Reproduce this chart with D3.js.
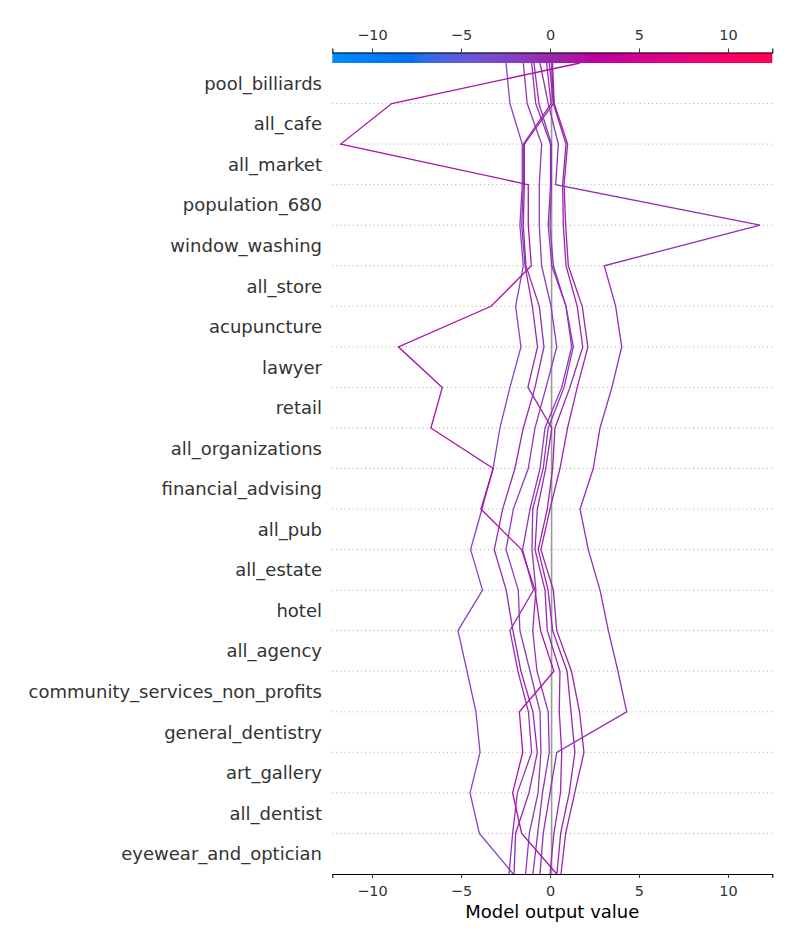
<!DOCTYPE html>
<html><head><meta charset="utf-8">
<script src="https://cdn.jsdelivr.net/npm/d3@7"></script>
<style>
body{margin:0;background:#fff}
svg{display:block;font-family:"DejaVu Sans",sans-serif}
</style>
</head><body>
<svg id="chart" width="800" height="950"></svg>
<script>
// Features, top to bottom as displayed
const features = ["pool_billiards","all_cafe","all_market","population_680","window_washing","all_store",
  "acupuncture","lawyer","retail","all_organizations","financial_advising","all_pub","all_estate","hotel",
  "all_agency","community_services_non_profits","general_dentistry","art_gallery","all_dentist","eyewear_and_optician"];
const baseValue = 0.09;
const xTicks = [-10, -5, 0, 5, 10];
const xDomain = [-12.23, 12.49];

// Cumulative model output at each feature boundary: index 0 = bottom start, index 20 = final output (top)
const obs01 = [-2.06,-3.97,-4.49,-3.93,-4.16,-4.66,-5.17,-3.79,-4.46,-3.82,-3.20,-2.81,-2.25,-1.63,-1.93,-1.50,-1.69,-1.56,-1.56,-2.25,-2.47];
const obs02 = [-2.30,-2.10,-1.83,-1.03,-1.21,-1.80,-2.25,-0.93,-1.54,-1.12,-0.56,-0.28,0.66,1.22,0.90,0.10,-0.10,0.03,0.03,-0.80,-1.03];
const obs03 = [-2.02,-1.93,-1.18,-0.71,-0.96,-1.63,-2.08,-2.46,-3.13,-2.66,-1.97,-1.50,-0.84,-0.34,-0.60,-1.35,-1.50,-1.44,-1.44,0.19,-0.04];
const obs04 = [-1.37,-1.16,-0.67,-0.51,-0.56,-1.12,-1.69,-1.78,-2.47,-2.06,-1.22,-0.84,-0.22,0.38,0.06,-0.47,-0.60,-0.60,-0.47,-1.28,-1.50];
const obs05 = [-0.96,-0.69,-0.42,-0.04,-0.10,-0.73,-0.97,-0.79,-1.01,-0.97,-0.38,-0.10,0.79,1.31,0.90,0.19,0.00,0.08,0.08,-0.62,-0.90];
const obs06 = [0.00,0.22,0.59,0.66,0.52,0.56,-0.15,-0.28,-0.84,-0.71,-0.24,0.10,-1.24,-0.70,-0.99,-1.40,-1.59,-1.50,-1.50,0.06,-0.19];
const obs07 = [0.39,0.60,1.08,1.40,1.18,0.96,0.15,-0.11,-0.66,-0.15,0.15,0.28,1.12,1.84,1.53,0.90,0.75,0.71,0.90,0.19,0.10];
const obs08 = [0.62,0.88,1.39,1.91,1.66,1.21,0.38,0.19,-0.51,0.00,0.56,0.99,1.53,2.13,1.81,1.03,0.88,0.79,0.99,0.24,0.14];
const obs09 = [-0.56,-0.38,0.00,0.38,4.31,3.82,3.28,2.81,2.15,1.69,2.43,2.81,3.48,4.03,3.69,3.05,11.80,0.32,0.47,-0.10,-0.56];
const obs10 = [0.38,-1.59,-2.10,-1.53,-1.72,0.22,-0.53,-0.84,-1.60,-3.88,-3.19,-6.69,-6.05,-8.52,-3.31,-1.05,-1.22,-1.22,-11.76,-8.89,1.69];
const observations = [obs01, obs02, obs03, obs04, obs05, obs06, obs07, obs08, obs09, obs10];

const nF = features.length;
const svg = d3.select("#chart");
const x = d3.scaleLinear().domain(xDomain).range([332.3, 772.3]);
const y = d3.scaleLinear().domain([0, nF]).range([874, 63]);

// SHAP red_blue colormap: LCh (D65) interpolation, 100 samples
function lch2rgb(L, C, H) {
  const a = C * Math.cos(H), b = C * Math.sin(H);
  const fy = (L + 16) / 116, fx = fy + a / 500, fz = fy - b / 200;
  const finv = t => (t > 0.2068966 ? t * t * t : (t - 16 / 116) / 7.787);
  const X = 0.95047 * finv(fx), Y = finv(fy), Z = 1.08883 * finv(fz);
  const r = 3.24048134 * X - 1.53715152 * Y - 0.49853633 * Z;
  const g = -0.96925495 * X + 1.87599 * Y + 0.04155593 * Z;
  const bb = 0.05564664 * X - 0.20404134 * Y + 1.05731107 * Z;
  const gam = v => {
    v = v > 0.0031308 ? 1.055 * Math.pow(v, 1 / 2.4) - 0.055 : 12.92 * v;
    return Math.max(0, Math.min(1, v));
  };
  return [gam(r), gam(g), gam(bb)];
}
const nSteps = 100;
const cmapSamples = d3.range(nSteps).map(i => {
  const t = i / (nSteps - 1);
  const l = i < 50 ? 54 + (40 - 54) * i / 49 : 40 + (54 - 40) * (i - 50) / 49;
  const c = 70 + 20 * t;
  const h = 4.6588 + (0.35470565 + 2 * Math.PI - 4.6588) * t;
  const rgb = lch2rgb(l, c, h);
  return d3.rgb(rgb[0] * 255, rgb[1] * 255, rgb[2] * 255);
});
function redBlue(t) {
  t = Math.max(0, Math.min(1, t));
  const p = t * (nSteps - 1), i = Math.min(nSteps - 2, Math.floor(p)), f = p - i;
  return d3.interpolateRgb(cmapSamples[i], cmapSamples[i + 1])(f);
}
const colorOf = v => redBlue((v - xDomain[0]) / (xDomain[1] - xDomain[0]));

// dotted horizontal lines
for (let i = 1; i < nF; i++) {
  svg.append("line").attr("x1", x(xDomain[0])).attr("x2", x(xDomain[1]))
    .attr("y1", y(i)).attr("y2", y(i))
    .attr("stroke", "#999").attr("stroke-width", 0.9).attr("stroke-dasharray", "0.9,3.2");
}

// base value line
svg.append("line").attr("x1", x(baseValue)).attr("x2", x(baseValue))
  .attr("y1", y(0)).attr("y2", y(nF)).attr("stroke", "#999999").attr("stroke-width", 1.6);

// observation lines
const lineGen = d3.line().x(d => x(d)).y((d, i) => y(i));
observations.forEach(obs => {
  svg.append("path").attr("d", lineGen(obs)).attr("fill", "none")
    .attr("stroke", colorOf(obs[obs.length - 1])).attr("stroke-width", 1.3)
    .attr("stroke-linejoin", "miter");
});

// feature labels
svg.append("g").selectAll("text").data(features).join("text")
  .attr("x", 322).attr("y", (d, i) => y(nF - i - 0.5))
  .attr("text-anchor", "end").attr("dominant-baseline", "central")
  .attr("font-size", 18).attr("fill", "#333333").text(d => d);

// bottom axis
const fmt = d => (d < 0 ? "\u2212" + Math.abs(d) : String(d));
const xAxis = d3.axisBottom(x).tickValues(xTicks).tickFormat(fmt).tickSize(4).tickPadding(8);
const gx = svg.append("g").attr("transform", `translate(0,${y(0)})`).call(xAxis);
gx.select(".domain").attr("stroke", "#000").attr("stroke-width", 1.1);
gx.selectAll(".tick line").attr("stroke", "#333");
gx.selectAll(".tick text").attr("font-size", 14.5).attr("fill", "#333333").attr("font-family", "DejaVu Sans");
svg.append("text").attr("x", (x(xDomain[0]) + x(xDomain[1])) / 2).attr("y", 918)
  .attr("text-anchor", "middle").attr("font-size", 18).attr("fill", "#000").text("Model output value");

// colorbar
const defs = svg.append("defs");
const grad = defs.append("linearGradient").attr("id", "cbar").attr("x1", "0%").attr("x2", "100%");
d3.range(0, 201).forEach(k => {
  grad.append("stop").attr("offset", (k / 2) + "%").attr("stop-color", redBlue(k / 200));
});
svg.append("rect").attr("x", x(xDomain[0])).attr("y", 52.7).attr("width", x(xDomain[1]) - x(xDomain[0]))
  .attr("height", 10.3).attr("fill", "url(#cbar)");
const topAxis = d3.axisTop(x).tickValues(xTicks).tickFormat(fmt).tickSize(4).tickPadding(8.5);
const gt = svg.append("g").attr("transform", "translate(0,52.5)").call(topAxis);
gt.select(".domain").attr("stroke", "#000").attr("stroke-width", 1.1);
gt.selectAll(".tick line").attr("stroke", "#333");
gt.selectAll(".tick text").attr("font-size", 14.5).attr("fill", "#333333").attr("font-family", "DejaVu Sans");
</script>
</body></html>
